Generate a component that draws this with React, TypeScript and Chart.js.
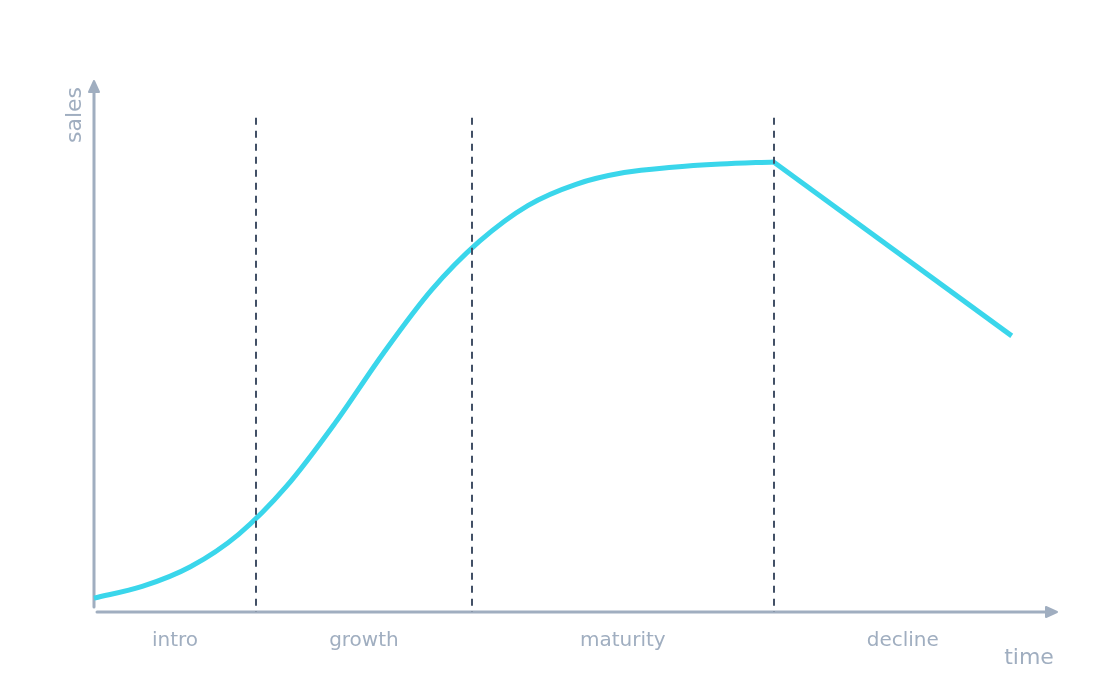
import React, { useEffect, useRef } from "react";
import { Chart, registerables } from "chart.js";

Chart.register(...registerables);

// ---- data ----
const growthTime = [0, 5, 10, 15, 20, 25, 30, 35, 40, 45, 50, 55, 60, 65, 70.5];
const growthSales = [2.6, 4.8, 8.5, 14.6, 23.7, 35.5, 48.6, 60.5, 69.7, 76.4, 80.4, 82.6, 83.6, 84.2, 84.6];
const declineTime = [70.5, 95.2];
const declineSales = [84.6, 51.9];

const stageNames = ["intro", "growth", "maturity", "decline"];
const stageBounds = [0, 16.8, 39.2, 70.5, 97.3];
const dividerTop = 92.9;

const xAxisTitle = "time";
const yAxisTitle = "sales";

// ---- styles ----
const CURVE = "#3ad6eb";
const AXIS = "#a0aec0";
const DASH = "#425066";
const FONT = "'DejaVu Sans', sans-serif";

const lifecyclePlugin = {
  id: "lifecycle",
  beforeDatasetsDraw(chart: any) {
    const { ctx, chartArea, scales } = chart;
    const x = scales.x;
    const y = scales.y;
    const x0 = x.getPixelForValue(0);
    const y0 = y.getPixelForValue(0);
    const xEnd = chartArea.right;
    const yEnd = chartArea.top;
    ctx.save();
    ctx.strokeStyle = AXIS;
    ctx.fillStyle = AXIS;
    ctx.lineWidth = 3;
    ctx.lineCap = "round";
    // y axis
    ctx.beginPath();
    ctx.moveTo(x0, y0 - 5);
    ctx.lineTo(x0, yEnd + 10);
    ctx.stroke();
    // x axis
    ctx.beginPath();
    ctx.moveTo(x0 + 3, y0);
    ctx.lineTo(xEnd - 10, y0);
    ctx.stroke();
    // arrow heads
    ctx.lineJoin = "round";
    ctx.lineWidth = 2;
    ctx.beginPath();
    ctx.moveTo(x0, yEnd + 1);
    ctx.lineTo(x0 - 5, yEnd + 12);
    ctx.lineTo(x0 + 5, yEnd + 12);
    ctx.closePath();
    ctx.fill();
    ctx.stroke();
    ctx.beginPath();
    ctx.moveTo(xEnd - 1, y0);
    ctx.lineTo(xEnd - 12, y0 - 5);
    ctx.lineTo(xEnd - 12, y0 + 5);
    ctx.closePath();
    ctx.fill();
    ctx.stroke();

    // stage labels
    ctx.font = `20px ${FONT}`;
    ctx.textAlign = "center";
    ctx.textBaseline = "middle";
    for (let i = 0; i < stageNames.length; i++) {
      const cx = (x.getPixelForValue(stageBounds[i]) + x.getPixelForValue(stageBounds[i + 1])) / 2;
      ctx.fillText(stageNames[i], cx, y0 + 29);
    }
    // axis titles
    ctx.font = `22px ${FONT}`;
    ctx.fillText(xAxisTitle, xEnd - 29, y0 + 46);
    ctx.save();
    ctx.translate(x0 - 19, yEnd + 35);
    ctx.rotate(-Math.PI / 2);
    ctx.fillText(yAxisTitle, 0, 0);
    ctx.restore();
    ctx.restore();
  },
  afterDatasetsDraw(chart: any) {
    const { ctx, scales } = chart;
    const x = scales.x;
    const y = scales.y;
    ctx.save();
    ctx.strokeStyle = DASH;
    ctx.lineWidth = 2;
    ctx.setLineDash([7, 6]);
    for (const b of stageBounds.slice(1, -1)) {
      const px = Math.round(x.getPixelForValue(b));
      ctx.beginPath();
      ctx.moveTo(px, y.getPixelForValue(dividerTop));
      ctx.lineTo(px, y.getPixelForValue(0));
      ctx.stroke();
    }
    ctx.restore();
  },
};

export default function App() {
  const ref = useRef<HTMLCanvasElement>(null);
  useEffect(() => {
    if (!ref.current) return;
    const chart = new Chart(ref.current, {
      type: "line",
      data: {
        datasets: [
          {
            label: "growth",
            data: growthTime.map((t, i) => ({ x: t, y: growthSales[i] })),
            borderColor: CURVE,
            borderWidth: 5,
            pointRadius: 0,
            cubicInterpolationMode: "monotone",
            fill: false,
            clip: false as any,
          },
          {
            label: "decline",
            data: declineTime.map((t, i) => ({ x: t, y: declineSales[i] })),
            borderColor: CURVE,
            borderWidth: 5,
            pointRadius: 0,
            tension: 0,
            fill: false,
            clip: false as any,
          },
        ],
      },
      options: {
        animation: false,
        responsive: false,
        layout: { padding: { left: 94, right: 58, top: 80, bottom: 84 } },
        scales: {
          x: { type: "linear", min: 0, max: 100, display: false },
          y: { type: "linear", min: 0, max: 100, display: false },
        },
        plugins: {
          legend: { display: false },
          tooltip: { enabled: false },
        },
      },
      plugins: [lifecyclePlugin],
    } as any);
    return () => chart.destroy();
  }, []);
  return (
    <div style={{ position: "fixed", left: 0, top: 0, width: 1116, height: 696, background: "#fff" }}>
      <canvas ref={ref} width={1116} height={696} style={{ width: 1116, height: 696 }} />
    </div>
  );
}
